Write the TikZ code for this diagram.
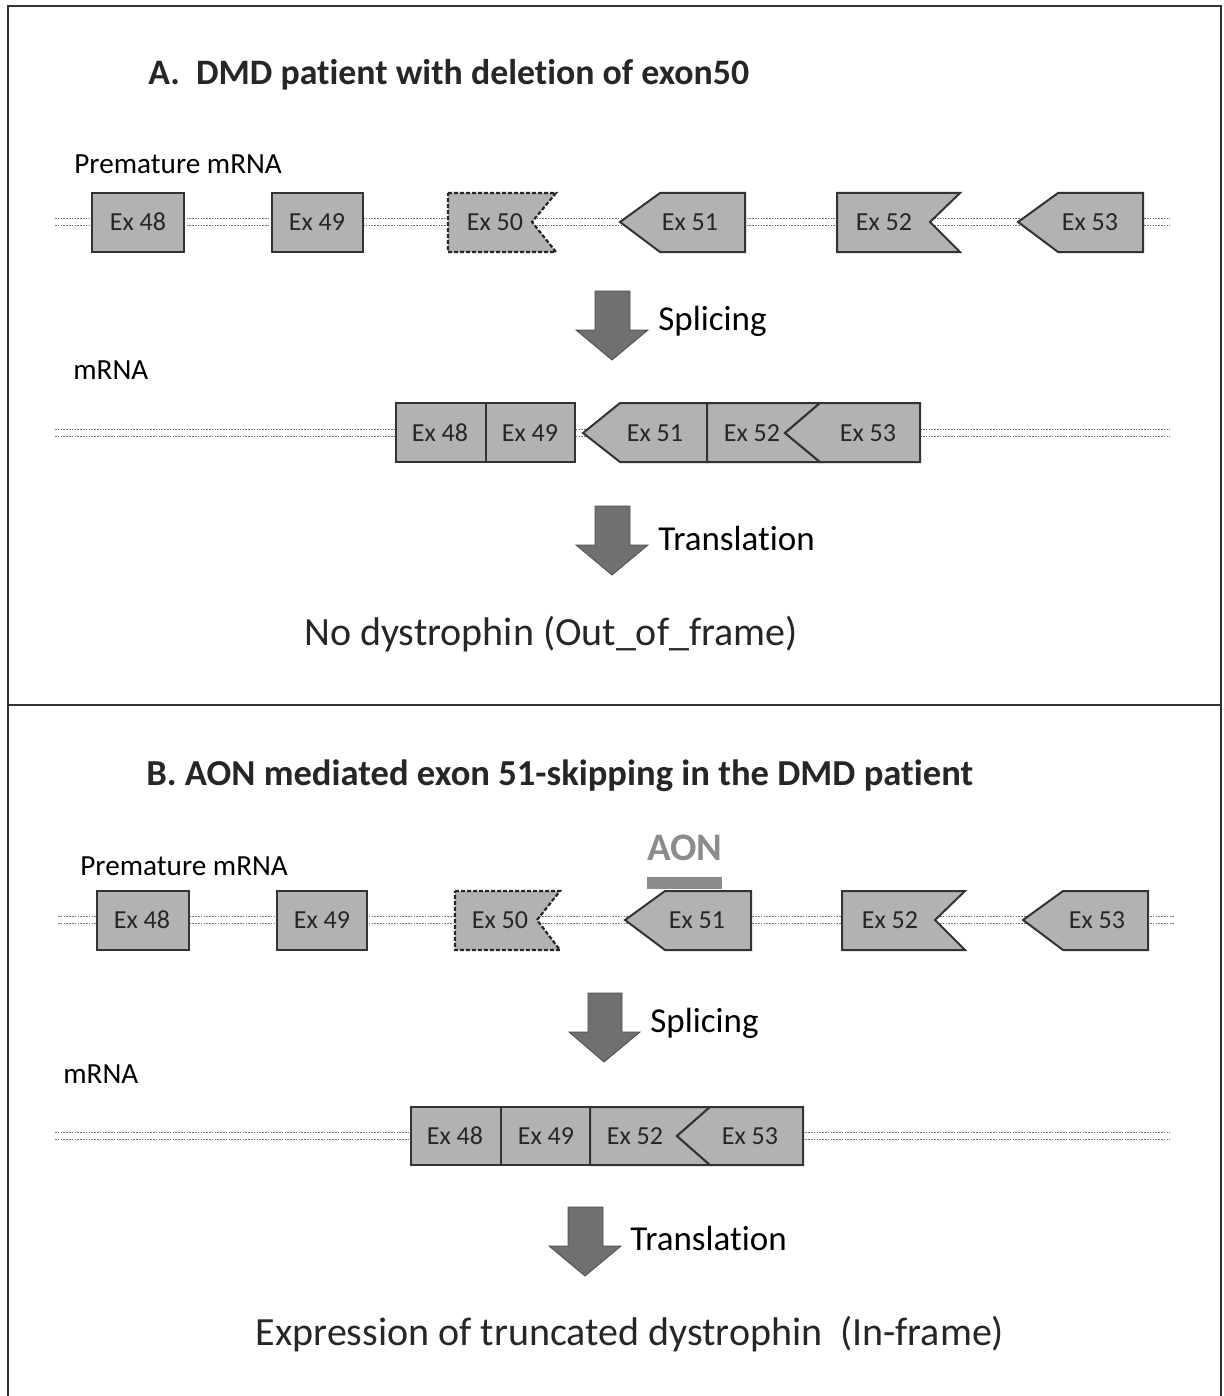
\documentclass[tikz,border=0pt]{standalone}
\usepackage{fontspec}
\setmainfont{Carlito}[Ligatures=NoCommon]
\definecolor{exgray}{RGB}{178,178,178}
\definecolor{arrgray}{RGB}{112,112,112}
\definecolor{aongray}{RGB}{140,140,140}
\begin{document}
\begin{tikzpicture}[x=0.5pt,y=-0.5pt,
  exon/.style={fill=exgray, draw=black!80, line width=1pt, line join=miter},
  delexon/.style={fill=exgray, draw=black!85, line width=1.1pt, dash pattern=on 2pt off 1pt},
  exlabel/.style={font=\fontsize{13}{15}\selectfont, text=black!85, inner sep=0pt},
  dotline/.style={draw=black!55, line width=0.45pt, dash pattern=on 0.8pt off 0.6pt},
  blockarrow/.style={fill=arrgray, draw=black!70, line width=0.4pt},
  rowlabel/.style={font=\fontsize{14.6}{16}\selectfont, anchor=base west, inner sep=0pt},
  steplabel/.style={font=\fontsize{17.5}{20}\selectfont, anchor=base west, inner sep=0pt},
  titlelabel/.style={font=\bfseries\fontsize{17.9}{20}\selectfont, anchor=base west, inner sep=0pt, text=black!85},
  resultlabel/.style={font=\fontsize{20}{22}\selectfont, anchor=base, inner sep=0pt, text=black!85},
  frame/.style={draw=black!80, line width=0.8pt}
]
\useasboundingbox (0,0) rectangle (1223,1396);
% frame
\draw[frame] (8,1396) -- (8,6) -- (1221,6) -- (1221,1396);
\draw[frame] (8,705) -- (1221,705);

% ================= Panel A =================
\node[titlelabel] (titleA) at (148,85) {A.\ \ DMD patient with deletion of exon50};
\node[rowlabel] (preA) at (74,174) {Premature mRNA};

% backbone A1
\coordinate (a1l) at (55,222); \coordinate (a1r) at (1170,222);
\draw[dotline] ([yshift=-1.6]a1l) -- ([yshift=-1.6]a1r);
\draw[dotline] ([yshift=1.6]a1l) -- ([yshift=1.6]a1r);

\draw[exon] (92,193) rectangle (184,252);
\draw[exon] (272,193) rectangle (363,252);
\draw[delexon] (448,193) -- (556,193) -- (532,222) -- (556,252) -- (448,252) -- cycle;
\draw[exon] (620,222) -- (660,193) -- (745,193) -- (745,252) -- (660,252) -- cycle;
\draw[exon] (837,193) -- (960,193) -- (930,222) -- (960,252) -- (837,252) -- cycle;
\draw[exon] (1018,222) -- (1058,193) -- (1143,193) -- (1143,252) -- (1058,252) -- cycle;
\node[exlabel] (a48) at (138,222) {Ex 48};
\node[exlabel] (a49) at (317,222) {Ex 49};
\node[exlabel] (a50) at (495,222) {Ex 50};
\node[exlabel] (a51) at (690,222) {Ex 51};
\node[exlabel] (a52) at (884,222) {Ex 52};
\node[exlabel] (a53) at (1090,222) {Ex 53};

% splicing arrow A
\draw[blockarrow] (595,291) -- (630,291) -- (630,330) -- (648,330) -- (612,360) -- (576,330) -- (595,330) -- cycle;
\node[steplabel] (splA) at (658,330) {Splicing};

\node[rowlabel] (mA) at (73,379) {mRNA};
\coordinate (a2l) at (55,433); \coordinate (a2r) at (1170,433);
\draw[dotline] ([yshift=-1.6]a2l) -- ([yshift=-1.6]a2r);
\draw[dotline] ([yshift=1.6]a2l) -- ([yshift=1.6]a2r);
\draw[exon] (396,403) rectangle (486,462);
\draw[exon] (486,403) rectangle (575,462);
\draw[exon] (583,433) -- (620,403) -- (707,403) -- (707,462) -- (620,462) -- cycle;
\draw[exon] (707,403) -- (820,403) -- (785,433) -- (820,462) -- (707,462) -- cycle;
\draw[exon] (785,433) -- (820,403) -- (920,403) -- (920,462) -- (820,462) -- cycle;
\node[exlabel] (m48) at (440,433) {Ex 48};
\node[exlabel] (m49) at (530,433) {Ex 49};
\node[exlabel] (m51) at (655,433) {Ex 51};
\node[exlabel] (m52) at (752,433) {Ex 52};
\node[exlabel] (m53) at (868,433) {Ex 53};

\draw[blockarrow] (595,506) -- (630,506) -- (630,545) -- (648,545) -- (612,575) -- (576,545) -- (595,545) -- cycle;
\node[steplabel] (trA) at (658,550) {Translation};

\node[resultlabel] (resA) at (551,645) {No dystrophin (Out\_of\_frame)};

% ================= Panel B =================
\node[titlelabel, font=\bfseries\fontsize{18.3}{20}\selectfont] (titleB) at (146,785) {B. AON mediated exon 51-skipping in the DMD patient};
\node[font=\bfseries\fontsize{19.5}{22}\selectfont, text=aongray, anchor=base, inner sep=0pt] (aon) at (685,860) {AON};
\fill[aongray] (647,877) rectangle (722,889);
\node[rowlabel] (preB) at (80,875) {Premature mRNA};

\coordinate (b1l) at (58,920); \coordinate (b1r) at (1175,920);
\draw[dotline] ([yshift=-1.6]b1l) -- ([yshift=-1.6]b1r);
\draw[dotline] ([yshift=1.6]b1l) -- ([yshift=1.6]b1r);
\draw[exon] (97,891) rectangle (189,950);
\draw[exon] (277,891) rectangle (367,950);
\draw[delexon] (455,891) -- (560,891) -- (537,920) -- (560,950) -- (455,950) -- cycle;
\draw[exon] (625,920) -- (665,891) -- (751,891) -- (751,950) -- (665,950) -- cycle;
\draw[exon] (842,891) -- (965,891) -- (935,920) -- (965,950) -- (842,950) -- cycle;
\draw[exon] (1023,920) -- (1063,891) -- (1148,891) -- (1148,950) -- (1063,950) -- cycle;
\node[exlabel] (b48) at (142,920) {Ex 48};
\node[exlabel] (b49) at (322,920) {Ex 49};
\node[exlabel] (b50) at (500,920) {Ex 50};
\node[exlabel] (b51) at (697,920) {Ex 51};
\node[exlabel] (b52) at (890,920) {Ex 52};
\node[exlabel] (b53) at (1097,920) {Ex 53};

\draw[blockarrow] (588,993) -- (622,993) -- (622,1032) -- (640,1032) -- (604,1062) -- (569,1032) -- (588,1032) -- cycle;
\node[steplabel] (splB) at (650,1032) {Splicing};

\node[rowlabel] (mB) at (63,1083) {mRNA};
\coordinate (b2l) at (55,1136); \coordinate (b2r) at (1170,1136);
\draw[dotline] ([yshift=-1.6]b2l) -- ([yshift=-1.6]b2r);
\draw[dotline] ([yshift=1.6]b2l) -- ([yshift=1.6]b2r);
\draw[exon] (411,1107) rectangle (501,1165);
\draw[exon] (501,1107) rectangle (590,1165);
\draw[exon] (590,1107) -- (710,1107) -- (677,1136) -- (710,1165) -- (590,1165) -- cycle;
\draw[exon] (677,1136) -- (710,1107) -- (803,1107) -- (803,1165) -- (710,1165) -- cycle;
\node[exlabel] (n48) at (455,1136) {Ex 48};
\node[exlabel] (n49) at (546,1136) {Ex 49};
\node[exlabel] (n52) at (635,1136) {Ex 52};
\node[exlabel] (n53) at (750,1136) {Ex 53};

\draw[blockarrow] (568,1207) -- (603,1207) -- (603,1246) -- (621,1246) -- (585,1276) -- (549,1246) -- (568,1246) -- cycle;
\node[steplabel] (trB) at (630,1250) {Translation};

\node[resultlabel] (resB) at (630,1345) {Expression of truncated dystrophin\ \ (In-frame)};
\end{tikzpicture}
\end{document}
